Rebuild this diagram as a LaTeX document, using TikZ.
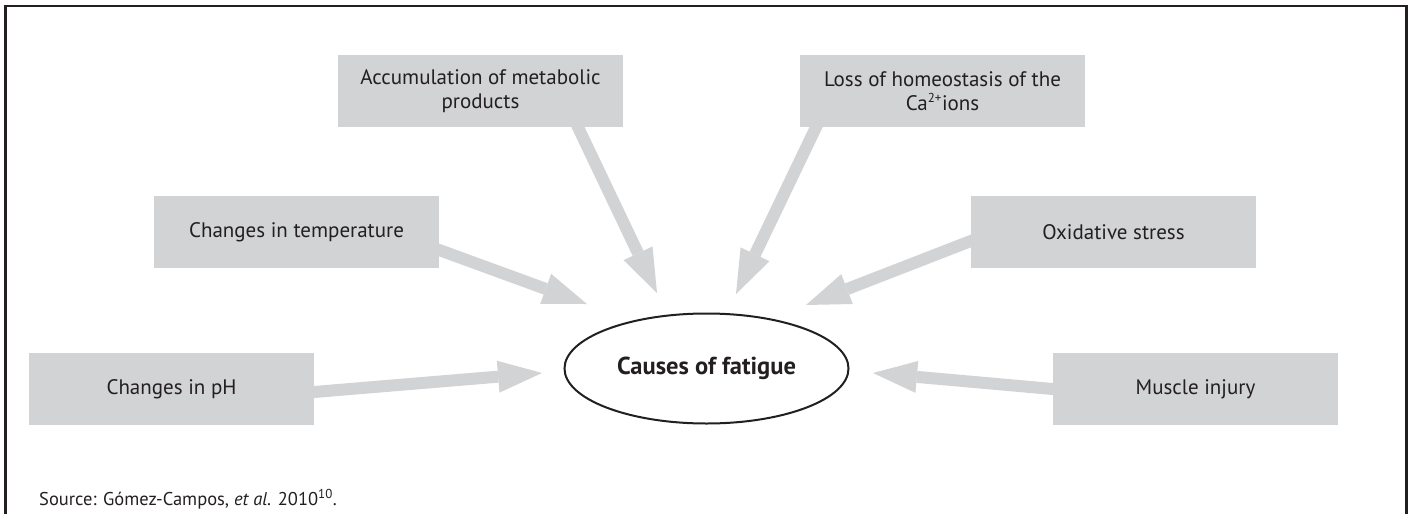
\documentclass[tikz,border=0pt]{standalone}
\usepackage{fontspec}
\setmainfont{PT Sans}
\usetikzlibrary{arrows.meta,shapes.geometric,backgrounds,calc}
\definecolor{boxgray}{HTML}{D1D3D4}
\definecolor{ink}{HTML}{231F20}
\begin{document}
\begin{tikzpicture}[x=1pt,y=-1pt,
  cause/.style={fill=boxgray,draw=none,minimum width=285pt,minimum height=72pt,
    inner sep=0pt,align=center,text=ink,font=\fontsize{21}{24}\selectfont},
  hub/.style={ellipse,draw=ink,line width=2pt,fill=white,minimum width=284pt,
    minimum height=110pt,inner sep=0pt,text=ink,font=\fontsize{24.5}{28}\selectfont\bfseries},
  arr/.style={draw=boxgray,line width=12pt,
    -{Triangle[length=44pt,width=32pt,line width=0pt]}},
  frame/.style={draw=ink,line width=2.5pt}]
\useasboundingbox (0,0) rectangle (1413,514);
\draw[frame] (5.5,514) -- (5.5,6) -- (1406.5,6) -- (1406.5,514);

\node[cause] (ph)   at (171.5,389) {Changes in pH};
\node[cause] (temp) at (296.5,232) {Changes in temperature};
\node[cause] (acc)  at (480.5,91)  {Accumulation of metabolic\\products};
\node[cause] (loss) at (942.5,91)  {Loss of homeostasis of the\\Ca\textsuperscript{\fontsize{13}{13}\selectfont 2+}ions};
\node[cause] (ox)   at (1113.5,232) {Oxidative stress};
\node[cause] (mus)  at (1195.5,389) {Muscle injury};
\node[hub]   (hubn) at (706.5,368.5) {Causes of fatigue};

\coordinate (t1) at (542,373);
\coordinate (t2) at (587,304);
\coordinate (t3) at (657,293);
\coordinate (t4) at (736,294);
\coordinate (t5) at (806,305);
\coordinate (t6) at (873,373);

\coordinate (s1) at ([yshift=-3pt]ph.east);
\coordinate (s2) at ([yshift=-18pt]temp.east);
\coordinate (s3) at ([xshift=97.5pt]acc.south);
\coordinate (s4) at ([xshift=-126.5pt]loss.south);
\coordinate (s5) at ([yshift=-9pt]ox.west);
\coordinate (s6) at (mus.west);

\begin{pgfonlayer}{background}
\draw[arr] ($(s1)!-15pt!(t1)$) -- (t1);
\draw[arr] ($(s2)!-15pt!(t2)$) -- (t2);
\draw[arr] ($(s3)!-15pt!(t3)$) -- (t3);
\draw[arr] ($(s4)!-15pt!(t4)$) -- (t4);
\draw[arr] ($(s5)!-15pt!(t5)$) -- (t5);
\draw[arr] ($(s6)!-15pt!(t6)$) -- (t6);
\end{pgfonlayer}

\node[anchor=base west,inner sep=0pt,text=ink,font=\fontsize{18.5}{22}\selectfont] (src) at (39,505)
  {Source: Gómez-Campos, \textit{et al.} 2010\textsuperscript{10}.};
\end{tikzpicture}
\end{document}
